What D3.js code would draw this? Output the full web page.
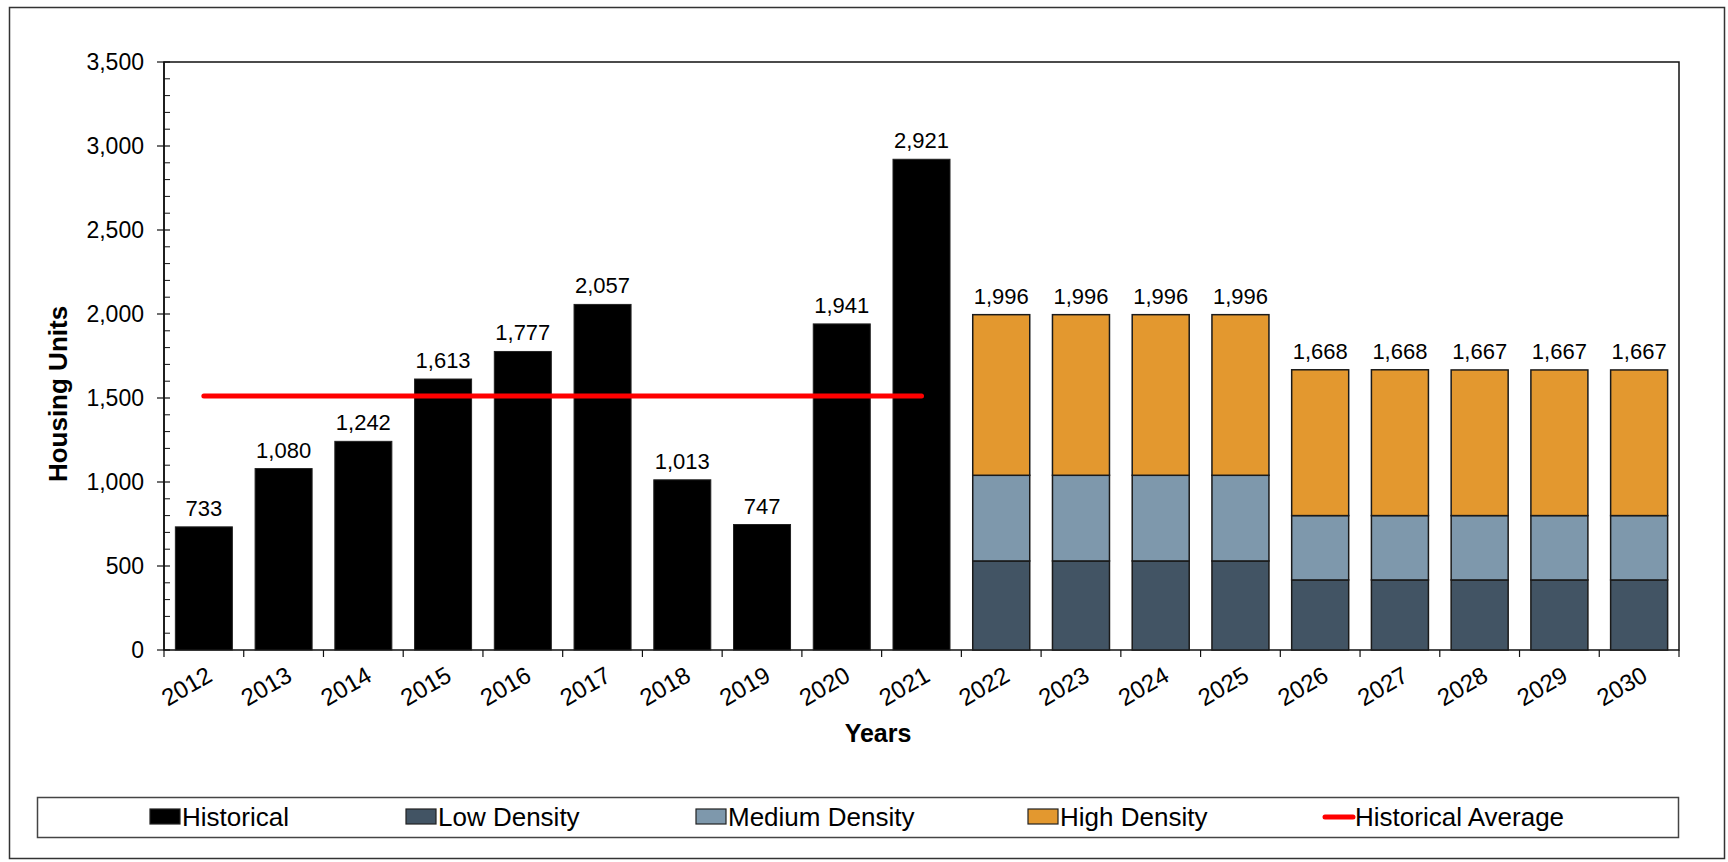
<!DOCTYPE html>
<html>
<head>
<meta charset="utf-8">
<script src="https://cdn.jsdelivr.net/npm/d3@7"></script>
<style>
  html, body { margin: 0; padding: 0; background: #fff; }
  svg { display: block; font-family: "Liberation Sans", Arial, sans-serif; }
</style>
</head>
<body>
<svg id="chart"></svg>
<script>
// housing units by year, historical vs projected by density
const years = ["2012", "2013", "2014", "2015", "2016", "2017", "2018", "2019", "2020", "2021",
  "2022", "2023", "2024", "2025", "2026", "2027", "2028", "2029", "2030"];
const historical = [733, 1080, 1242, 1613, 1777, 2057, 1013, 747, 1941, 2921,
  0, 0, 0, 0, 0, 0, 0, 0, 0];
const lowDensity = [0, 0, 0, 0, 0, 0, 0, 0, 0, 0,
  530, 530, 530, 530, 417, 417, 417, 417, 417];
const mediumDensity = [0, 0, 0, 0, 0, 0, 0, 0, 0, 0,
  510, 510, 510, 510, 383, 383, 383, 383, 383];
const highDensity = [0, 0, 0, 0, 0, 0, 0, 0, 0, 0,
  956, 956, 956, 956, 868, 868, 867, 867, 867];
const yTicks = [0, 500, 1000, 1500, 2000, 2500, 3000, 3500];
const seriesNames = ["Historical", "Low Density", "Medium Density", "High Density", "Historical Average"];

const width = 1728;
const height = 862;
const margin = { top: 62, right: 49, bottom: 212, left: 164 };

const colors = {
  "Historical": "#000000",
  "Low Density": "#425464",
  "Medium Density": "#7e98ac",
  "High Density": "#e3982f",
  "Historical Average": "#ff0000",
};

const rows = years.map((year, i) => ({
  year,
  historical: historical[i],
  low: lowDensity[i],
  medium: mediumDensity[i],
  high: highDensity[i],
}));

const histYears = rows.filter((d) => d.historical > 0);
const histAvg = d3.mean(histYears, (d) => d.historical);

const svg = d3.select("#chart").attr("width", width).attr("height", height);

// outer frame
svg.append("rect")
  .attr("x", 9.5).attr("y", 7.5)
  .attr("width", width - 13).attr("height", height - 11)
  .attr("fill", "none").attr("stroke", "#333").attr("stroke-width", 1.5);

const x = d3.scaleBand()
  .domain(years)
  .range([margin.left, width - margin.right])
  .paddingInner(0.285)
  .paddingOuter(0.1425);

const y = d3.scaleLinear()
  .domain([0, 3500])
  .range([height - margin.bottom, margin.top]);

const step = x.step();
const x0 = margin.left;
const x1 = width - margin.right;
const yBase = y(0);

// plot area border
svg.append("rect")
  .attr("x", x0).attr("y", y(3500))
  .attr("width", x1 - x0).attr("height", yBase - y(3500))
  .attr("fill", "none").attr("stroke", "#111").attr("stroke-width", 1.5);

// historical bars
svg.append("g")
  .selectAll("rect")
  .data(histYears)
  .join("rect")
  .attr("x", (d) => x(d.year))
  .attr("width", x.bandwidth())
  .attr("y", (d) => y(d.historical))
  .attr("height", (d) => yBase - y(d.historical))
  .attr("fill", colors["Historical"])
  .attr("stroke", "#222")
  .attr("stroke-width", 1);

// projected stacked bars
const stack = d3.stack().keys(["low", "medium", "high"]);
const stacked = stack(rows.filter((d) => d.historical === 0));
const stackColor = { low: colors["Low Density"], medium: colors["Medium Density"], high: colors["High Density"] };

svg.append("g")
  .selectAll("g")
  .data(stacked)
  .join("g")
  .attr("fill", (s) => stackColor[s.key])
  .selectAll("rect")
  .data((s) => s)
  .join("rect")
  .attr("x", (d) => x(d.data.year))
  .attr("width", x.bandwidth())
  .attr("y", (d) => y(d[1]))
  .attr("height", (d) => y(d[0]) - y(d[1]))
  .attr("stroke", "#1a1a1a")
  .attr("stroke-width", 1.5);

// value labels
const fmt = d3.format(",");
svg.append("g")
  .attr("font-size", 22)
  .attr("text-anchor", "middle")
  .attr("fill", "#000")
  .selectAll("text")
  .data(rows)
  .join("text")
  .attr("x", (d) => x(d.year) + x.bandwidth() / 2)
  .attr("y", (d) => y(d.historical + d.low + d.medium + d.high) - 11)
  .text((d) => fmt(d.historical + d.low + d.medium + d.high));

// historical average line
svg.append("line")
  .attr("x1", x(histYears[0].year) + x.bandwidth() / 2)
  .attr("x2", x(histYears[histYears.length - 1].year) + x.bandwidth() / 2)
  .attr("y1", y(histAvg))
  .attr("y2", y(histAvg))
  .attr("stroke", colors["Historical Average"])
  .attr("stroke-width", 5)
  .attr("stroke-linecap", "round");

// y axis
const yAxisG = svg.append("g");
yAxisG.append("line")
  .attr("x1", x0).attr("x2", x0)
  .attr("y1", y(3500)).attr("y2", yBase)
  .attr("stroke", "#111").attr("stroke-width", 1.5);
yAxisG.selectAll(".minor")
  .data(d3.range(0, 3501, 100).filter((v) => v % 500 !== 0))
  .join("line")
  .attr("class", "minor")
  .attr("x1", x0).attr("x2", x0 + 6)
  .attr("y1", (d) => y(d)).attr("y2", (d) => y(d))
  .attr("stroke", "#111").attr("stroke-width", 1);
yAxisG.selectAll(".major")
  .data(yTicks)
  .join("line")
  .attr("class", "major")
  .attr("x1", x0 - 7).attr("x2", x0 + 6)
  .attr("y1", (d) => y(d)).attr("y2", (d) => y(d))
  .attr("stroke", "#111").attr("stroke-width", 1.2);
yAxisG.selectAll("text")
  .data(yTicks)
  .join("text")
  .attr("x", x0 - 20)
  .attr("y", (d) => y(d))
  .attr("dy", "0.36em")
  .attr("text-anchor", "end")
  .attr("font-size", 23)
  .text(fmt);

// x axis
const xAxisG = svg.append("g");
xAxisG.selectAll("line")
  .data(d3.range(years.length + 1))
  .join("line")
  .attr("x1", (i) => x0 + i * step).attr("x2", (i) => x0 + i * step)
  .attr("y1", yBase).attr("y2", yBase + 7)
  .attr("stroke", "#111").attr("stroke-width", 1.2);
xAxisG.selectAll("text")
  .data(years)
  .join("text")
  .attr("text-anchor", "end")
  .attr("font-size", 24)
  .attr("transform", (d) => `translate(${x(d) + x.bandwidth() / 2 + 10},${yBase + 30}) rotate(-30)`)
  .text((d) => d);

// axis titles
svg.append("text")
  .attr("x", 878)
  .attr("y", 742)
  .attr("text-anchor", "middle")
  .attr("font-size", 25)
  .attr("font-weight", "bold")
  .text("Years");

svg.append("text")
  .attr("transform", `translate(67,394) rotate(-90)`)
  .attr("text-anchor", "middle")
  .attr("font-size", 26)
  .attr("font-weight", "bold")
  .text("Housing Units");

// legend
const legend = svg.append("g");
legend.append("rect")
  .attr("x", 37.5).attr("y", 797.5)
  .attr("width", 1641).attr("height", 40)
  .attr("fill", "#fff").attr("stroke", "#444").attr("stroke-width", 1.5);

const legendX = [150, 406, 696, 1028, 1323];
const item = legend.selectAll("g")
  .data(seriesNames)
  .join("g")
  .attr("transform", (d, i) => `translate(${legendX[i]},817)`);

item.filter((d) => d !== "Historical Average")
  .append("rect")
  .attr("x", 0).attr("y", -8)
  .attr("width", 30).attr("height", 15)
  .attr("fill", (d) => colors[d])
  .attr("stroke", "#222").attr("stroke-width", 1.2);

item.filter((d) => d === "Historical Average")
  .append("line")
  .attr("x1", 2).attr("x2", 30)
  .attr("y1", 0).attr("y2", 0)
  .attr("stroke", colors["Historical Average"])
  .attr("stroke-width", 5)
  .attr("stroke-linecap", "round");

item.append("text")
  .attr("x", 32)
  .attr("y", 0)
  .attr("dy", "0.36em")
  .attr("font-size", 26)
  .text((d) => d);
</script>
</body>
</html>
